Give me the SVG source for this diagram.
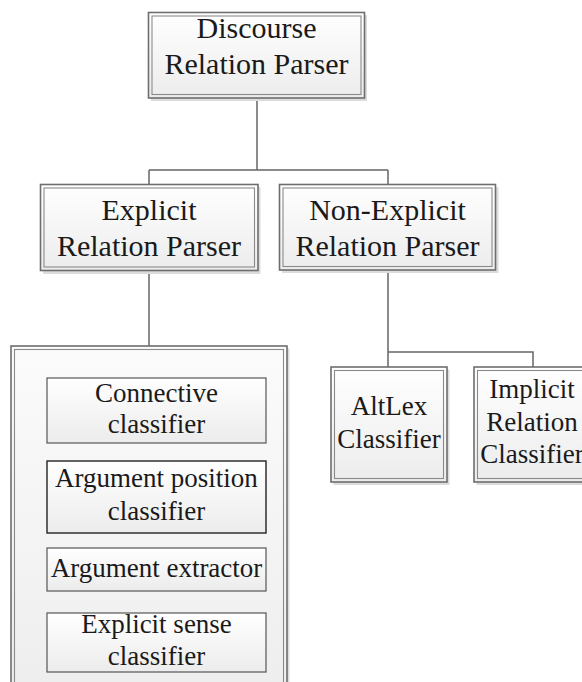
<svg xmlns="http://www.w3.org/2000/svg" width="582" height="682" viewBox="0 0 582 682">
<defs>
<linearGradient id="g" x1="0" y1="0" x2="0" y2="1">
<stop offset="0" stop-color="#ffffff"/>
<stop offset="1" stop-color="#ececec"/>
</linearGradient>
<linearGradient id="gc" x1="0" y1="0" x2="0" y2="1">
<stop offset="0" stop-color="#fbfbfb"/>
<stop offset="1" stop-color="#eeeeee"/>
</linearGradient>
</defs>
<style>
.sh{fill:#dcdcdc;}
.outer{fill:url(#g);stroke:#6e6e6e;stroke-width:1.6;}
.inner{fill:none;stroke:#8a8a8a;stroke-width:1.1;}
.ib{fill:url(#g);stroke:#555;stroke-width:1.2;}
.ibd{fill:url(#g);stroke:#222;stroke-width:1.4;}
.conn{fill:none;stroke:#666;stroke-width:1.5;}
text{font-family:"Liberation Serif","Times New Roman",serif;fill:#1a1a1a;text-anchor:middle;}
.big{font-size:30px;}
.mid{font-size:27px;}
</style>
<g id="connectors">
<path class="conn" d="M257 98 V170 M149 170 H388 M149 170 V184 M388 170 V184"/>
<path class="conn" d="M149 271 V346"/>
<path class="conn" d="M388 270 V352 H533 V367 M388 352 V367"/>
</g>
<g id="discourse">
<rect class="sh" x="151" y="15" width="216" height="86"/>
<rect class="outer" x="148.5" y="12.5" width="216" height="85.5"/>
<rect class="inner" x="152" y="16" width="209" height="78.5"/>
<text class="big" x="256.5" y="38">Discourse</text>
<text class="big" x="256.5" y="74">Relation Parser</text>
</g>
<g id="explicit">
<rect class="sh" x="43" y="187" width="217.5" height="87"/>
<rect class="outer" x="40.5" y="184.5" width="217.5" height="86"/>
<rect class="inner" x="44" y="188" width="210.5" height="79"/>
<text class="big" x="149" y="220">Explicit</text>
<text class="big" x="149" y="256">Relation Parser</text>
</g>
<g id="nonexplicit">
<rect class="sh" x="282" y="187" width="216.5" height="86"/>
<rect class="outer" x="279.5" y="184.5" width="216" height="85.5"/>
<rect class="inner" x="283" y="188" width="209" height="78.5"/>
<text class="big" x="387.5" y="220">Non-Explicit</text>
<text class="big" x="387.5" y="256">Relation Parser</text>
</g>
<g id="container">
<rect class="sh" x="13.5" y="348.5" width="276" height="340"/>
<rect class="outer" style="fill:url(#gc)" x="11" y="346" width="276" height="340"/>
<rect class="inner" x="14.5" y="349.5" width="269" height="340"/>
</g>
<g id="connective">
<rect class="ib" x="47" y="378" width="219" height="65"/>
<text class="mid" x="156.5" y="401.5">Connective</text>
<text class="mid" x="156.5" y="433">classifier</text>
</g>
<g id="argpos">
<rect class="ibd" x="47" y="461" width="219" height="72"/>
<text class="mid" x="156.5" y="486.5">Argument position</text>
<text class="mid" x="156.5" y="520">classifier</text>
</g>
<g id="argext">
<rect class="ib" x="47" y="548" width="219" height="43"/>
<text class="mid" x="156.5" y="577">Argument extractor</text>
</g>
<g id="expsense">
<rect class="ib" x="47" y="613" width="219" height="59"/>
<text class="mid" x="156.5" y="633">Explicit sense</text>
<text class="mid" x="156.5" y="665">classifier</text>
</g>
<g id="altlex">
<rect class="sh" x="333.5" y="369.5" width="116" height="115.5"/>
<rect class="outer" x="331" y="367" width="116" height="115"/>
<rect class="inner" x="334.5" y="370.5" width="109" height="108"/>
<text class="mid" x="389" y="415">AltLex</text>
<text class="mid" x="389" y="448">Classifier</text>
</g>
<g id="implicit">
<rect class="sh" x="476.5" y="369.5" width="116" height="115.5"/>
<rect class="outer" x="474" y="367" width="116" height="115"/>
<rect class="inner" x="477.5" y="370.5" width="109" height="108"/>
<text class="mid" x="532" y="398">Implicit</text>
<text class="mid" x="532" y="431">Relation</text>
<text class="mid" x="532" y="463">Classifier</text>
</g>
</svg>
